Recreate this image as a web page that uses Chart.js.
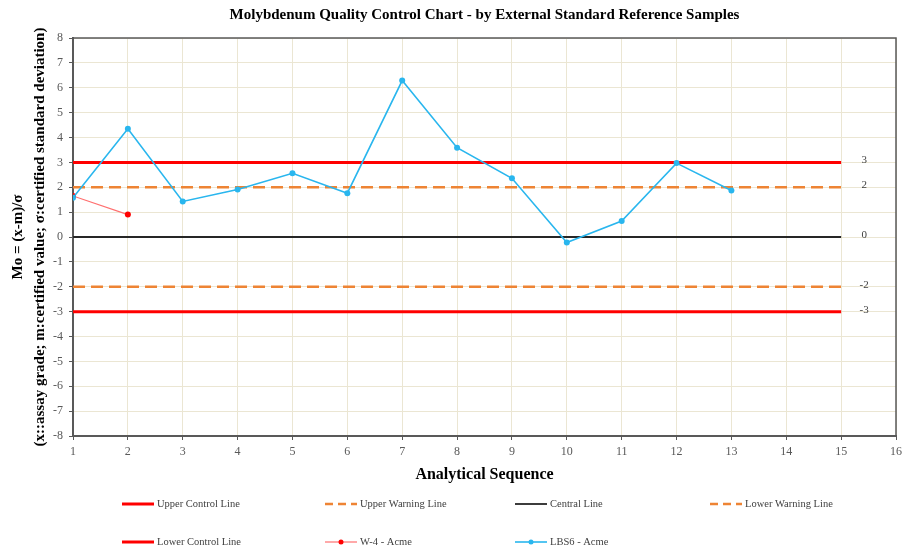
<!DOCTYPE html>
<html>
<head>
<meta charset="utf-8">
<script src="https://cdn.jsdelivr.net/npm/chart.js@4/dist/chart.umd.min.js"></script>
<style>
  html, body { margin: 0; padding: 0; background: #ffffff; }
  #wrap { width: 907px; height: 552px; position: relative; }
</style>
</head>
<body>
<div id="wrap"><canvas id="qc"></canvas></div>
<script>
// Analytical sequence numbers and standardized deviations (Mo)
const sequence = [1, 2, 3, 4, 5, 6, 7, 8, 9, 10, 11, 12, 13];
const lbs6Acme = [1.58, 4.35, 1.43, 1.91, 2.56, 1.76, 6.29, 3.59, 2.36, -0.22, 0.64, 2.97, 1.87];
const w4Sequence = [1, 2];
const w4Acme = [1.65, 0.9];

// Control limits (in standard deviations) and their horizontal span
const limitSpan = [1, 15];
const upperControl = 3;
const upperWarning = 2;
const centralValue = 0;
const lowerWarning = -2;
const lowerControl = -3;

// Axis ranges
const xRange = [1, 16];
const yRange = [-8, 8];

const SERIF = '"Liberation Serif", "Times New Roman", serif';

function pts(xs, ys) { return xs.map((x, i) => ({ x: x, y: ys[i] })); }
function flat(v) { return limitSpan.map(x => ({ x: x, y: v })); }

const RED = '#ff0000';
const ORANGE = '#ee8434';
const DARK = '#262626';
const BLUE = '#29b6ee';
const PINK = '#ff6f6f';

const datasets = [
  { label: 'Upper Control Line', data: flat(upperControl), borderColor: RED, borderWidth: 3, pointRadius: 0, order: 3, endLabel: upperControl },
  { label: 'Upper Warning Line', data: flat(upperWarning), borderColor: ORANGE, borderWidth: 2.5, borderDash: [12, 6], pointRadius: 0, order: 3, endLabel: upperWarning },
  { label: 'Central Line', data: flat(centralValue), borderColor: DARK, borderWidth: 1.8, pointRadius: 0, order: 3, endLabel: centralValue },
  { label: 'Lower Warning Line', data: flat(lowerWarning), borderColor: ORANGE, borderWidth: 2.5, borderDash: [12, 6], pointRadius: 0, order: 3, endLabel: lowerWarning },
  { label: 'Lower Control Line', data: flat(lowerControl), borderColor: RED, borderWidth: 3, pointRadius: 0, order: 3, endLabel: lowerControl },
  { label: 'W-4 - Acme', data: pts(w4Sequence, w4Acme), borderColor: PINK, borderWidth: 1.2, pointRadius: 3, pointBackgroundColor: RED, pointBorderColor: RED, pointBorderWidth: 0, order: 1 },
  { label: 'LBS6 - Acme', data: pts(sequence, lbs6Acme), borderColor: BLUE, borderWidth: 1.6, pointRadius: 3, pointBackgroundColor: BLUE, pointBorderColor: BLUE, pointBorderWidth: 0, order: 0 }
];
datasets.forEach(d => { d.showLine = true; d.fill = false; d.tension = 0; d.pointHoverRadius = d.pointRadius; });

// Frame on the top and right of the plot area
const frame = {
  id: 'frame',
  afterDraw(chart) {
    const { ctx, chartArea: a } = chart;
    ctx.save();
    ctx.strokeStyle = '#595959';
    ctx.lineWidth = 1.5;
    ctx.beginPath();
    ctx.moveTo(a.left, a.top);
    ctx.lineTo(a.right, a.top);
    ctx.lineTo(a.right, a.bottom);
    ctx.stroke();
    ctx.restore();
  }
};

// Value labels at the right end of each limit line
const endLabels = {
  id: 'endLabels',
  afterDatasetsDraw(chart) {
    const { ctx, scales } = chart;
    ctx.save();
    ctx.font = '11px ' + SERIF;
    ctx.fillStyle = '#404040';
    ctx.textAlign = 'center';
    ctx.textBaseline = 'middle';
    chart.data.datasets.forEach(ds => {
      if (ds.endLabel === undefined) return;
      const last = ds.data[ds.data.length - 1];
      const x = scales.x.getPixelForValue(last.x) + 23;
      const y = scales.y.getPixelForValue(last.y);
      ctx.fillText(String(ds.endLabel), x, y - 2);
    });
    ctx.restore();
  }
};

// Legend laid out in fixed columns below the axis
const gridLegend = {
  id: 'gridLegend',
  afterDraw(chart) {
    const { ctx } = chart;
    const colX = [122, 325, 515, 710];
    const rowY = [504, 542];
    const perRow = 4;
    const sample = 32;
    ctx.save();
    ctx.font = '10.5px ' + SERIF;
    ctx.textBaseline = 'middle';
    ctx.textAlign = 'left';
    chart.data.datasets.forEach((ds, i) => {
      const x = colX[i % perRow];
      const y = rowY[Math.floor(i / perRow)];
      ctx.save();
      ctx.strokeStyle = ds.borderColor;
      ctx.lineWidth = ds.borderWidth;
      ctx.setLineDash(ds.borderDash ? [8, 5] : []);
      ctx.beginPath();
      ctx.moveTo(x, y);
      ctx.lineTo(x + sample, y);
      ctx.stroke();
      ctx.restore();
      if (ds.pointRadius) {
        ctx.fillStyle = ds.pointBackgroundColor;
        ctx.beginPath();
        ctx.arc(x + sample / 2, y, 2.5, 0, Math.PI * 2);
        ctx.fill();
      }
      ctx.fillStyle = '#404040';
      ctx.fillText(ds.label, x + sample + 3, y);
    });
    ctx.restore();
  }
};

new Chart(document.getElementById('qc'), {
  type: 'scatter',
  data: { datasets: datasets },
  plugins: [frame, endLabels, gridLegend],
  options: {
    responsive: true,
    maintainAspectRatio: false,
    animation: false,
    events: [],
    layout: { padding: { left: 0, right: 9, top: 0, bottom: 62 } },
    plugins: {
      legend: { display: false },
      tooltip: { enabled: false },
      title: {
        display: true,
        fullSize: false,
        text: 'Molybdenum Quality Control Chart - by External Standard Reference Samples',
        color: '#000000',
        font: { family: SERIF, size: 15, weight: 'bold', lineHeight: 1.2 },
        padding: { top: 6, bottom: 14 }
      }
    },
    scales: {
      x: {
        type: 'linear',
        min: xRange[0],
        max: xRange[1],
        afterFit(s) { s.height = 54; },
        ticks: { stepSize: 1, color: '#595959', padding: 5, font: { family: SERIF, size: 12 } },
        grid: { color: '#ebe6d3', lineWidth: 1, tickColor: '#595959', tickLength: 4 },
        border: { color: '#595959', width: 2 },
        title: {
          display: true,
          text: 'Analytical Sequence',
          color: '#000000',
          font: { family: SERIF, size: 16, weight: 'bold' },
          padding: { top: 4, bottom: 6 }
        }
      },
      y: {
        type: 'linear',
        min: yRange[0],
        max: yRange[1],
        afterFit(s) { s.width = 73; },
        ticks: { stepSize: 1, color: '#595959', padding: 6, font: { family: SERIF, size: 12 } },
        grid: { color: '#ebe6d3', lineWidth: 1, tickColor: '#595959', tickLength: 4 },
        border: { color: '#595959', width: 2 },
        title: {
          display: true,
          text: ['Mo = (x-m)/\u03c3', '(x::assay grade; m:certified value; \u03c3:certified standard deviation)'],
          color: '#000000',
          font: { family: SERIF, size: 15, weight: 'bold', lineHeight: 1.45 },
          padding: { top: 7, bottom: 0 }
        }
      }
    }
  }
});
</script>
</body>
</html>
